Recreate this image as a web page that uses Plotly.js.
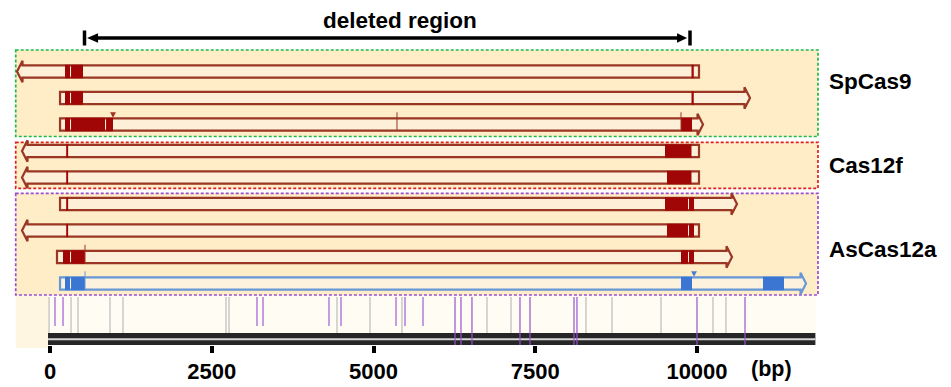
<!DOCTYPE html>
<html><head><meta charset="utf-8">
<script src="https://cdn.plot.ly/plotly-3.0.1.min.js"></script>
<style>html,body{margin:0;padding:0;background:#fff}</style>
</head><body><div id="chart" style="width:951px;height:387px"></div>
<script>
// ---------------- data (positions in bp) ----------------
const groupNames = ['SpCas9', 'Cas12f', 'AsCas12a'];
const readGroup  = [0, 0, 0, 1, 1, 2, 2, 2, 2];
const readStart  = [-510, 155, 155, -433, -433, 155, -433, 108, 155];
const readEnd    = [10031, 10819, 10093, 10031, 10031, 10618, 10031, 10541, 11685];
const readStrand = ['-', '+', '+', '-', '-', '+', '-', '+', '+'];
const readKind   = ['red', 'red', 'red', 'red', 'red', 'red', 'red', 'red', 'blue'];

const blockRead  = [0, 0, 0,   1, 1, 1,   2, 2, 2, 2,   3, 3,   4, 4,   5, 5, 5,   6, 6, 6,   7, 7, 7, 7,   8, 8, 8, 8];
const blockStart = [232, 325, 9915,  232, 325, 9915,  232, 325, 866, 9753,  250, 9505,  250, 9536,  250, 9505, 9876,  250, 9536, 9876,  201, 325, 9753, 9876,  232, 325, 9753, 11020];
const blockEnd   = [309, 510, 9950,  309, 510, 9950,  309, 850, 974, 9923,  280, 9915,  280, 9915,  280, 9861, 9954,  280, 9861, 9954,  309, 541, 9861, 9954,  309, 541, 9923, 11345];

const markRead = [2, 2, 7, 8];
const markPos  = [5363, 9753, 541, 541];
const cutRead  = [2, 8];
const cutPos   = [974, 9954];

const deletedStart = 533;
const deletedEnd   = 9892;
const deletedLabel = 'deleted region';
const deletedLabelPos = 5410;

const trackStart = -31;
const trackEnd   = 11830;
const greyPos        = [-15, 325, 433, 927, 1128, 2720, 2767, 4436, 4946, 5440, 6754, 7125, 8284, 8686, 9444, 10247, 10448];
const purpleShortPos = [77, 201, 3199, 3292, 4312, 4498, 5348, 5487, 5765];
const purpleLongPos  = [6260, 6352, 6522, 7264, 7419, 8099, 8145, 10000, 10742];

const tickVals = [0, 2500, 5000, 7500, 10000];
const tickText = ['0', '2500', '5000', '7500', '10000'];
const unitLabel = '(bp)';
const unitLabelPos = 11159;

// ---------------- layout helpers ----------------
const FONT = 'Arial, "Liberation Sans", sans-serif';
const rowY = i => 71.5 + 26.5 * i;   // vertical pixel centre of read row
const HALF = 6.2;                       // half body height (px)
const HEAD = 85;                        // arrowhead length (bp)
const FLARE = 4.5;                      // arrowhead flare (px)
const boxX0 = -530, boxX1 = 11870;
const groupBox = [
  {y0: 50, y1: 136.5, color: '#1FBA48'},
  {y0: 142.3, y1: 188.3, color: '#E02020'},
  {y0: 193.3, y1: 295, color: '#9A4ECF'}
];
const groupLabelY = [81.6, 165.6, 249];
const palette = {
  red:  {line: '#9A3624', fill: '#FDEFD8', block: '#A00606', cut: '#A3301E'},
  blue: {line: '#6797D6', fill: '#FDF2DD', block: '#3A76D2', cut: '#4A7FCB'}
};

const shapes = [];
// group boxes
groupBox.forEach(b => shapes.push({type: 'rect', xref: 'x', yref: 'y', x0: boxX0, x1: boxX1, y0: b.y0, y1: b.y1,
  fillcolor: '#FEEDC6', line: {color: b.color, width: 1.7, dash: '3px,2px'}, layer: 'below'}));
// bottom track background
shapes.push({type: 'rect', xref: 'x', yref: 'y', x0: boxX0, x1: trackStart, y0: 296, y1: 348, fillcolor: '#FFF6E2', line: {width: 0}, layer: 'below'});
shapes.push({type: 'rect', xref: 'x', yref: 'y', x0: trackStart, x1: trackEnd + 15, y0: 296, y1: 333, fillcolor: '#FFFCF3', line: {width: 0}, layer: 'below'});

// reads
for (let i = 0; i < readStart.length; i++) {
  const y = rowY(i), t = y - HALF, b = y + HALF, s = readStart[i], e = readEnd[i];
  const c = palette[readKind[i]];
  let p;
  if (readStrand[i] === '+') {
    p = `M${s},${t} L${e - HEAD},${t} L${e - HEAD},${t - FLARE} L${e},${y} L${e - HEAD},${b + FLARE} L${e - HEAD},${b} L${s},${b} Z`;
  } else {
    p = `M${e},${t} L${s + HEAD},${t} L${s + HEAD},${t - FLARE} L${s},${y} L${s + HEAD},${b + FLARE} L${s + HEAD},${b} L${e},${b} Z`;
  }
  shapes.push({type: 'path', xref: 'x', yref: 'y', path: p, fillcolor: c.fill, line: {color: c.line, width: 2.2}});
}
// blocks
for (let k = 0; k < blockRead.length; k++) {
  const i = blockRead[k], y = rowY(i), c = palette[readKind[i]];
  shapes.push({type: 'rect', xref: 'x', yref: 'y', x0: blockStart[k], x1: blockEnd[k], y0: y - HALF - 0.5, y1: y + HALF + 0.5,
    fillcolor: c.block, line: {width: 0}});
}
// marks
for (let k = 0; k < markRead.length; k++) {
  const i = markRead[k], y = rowY(i), c = palette[readKind[i]];
  shapes.push({type: 'line', xref: 'x', yref: 'y', x0: markPos[k], x1: markPos[k], y0: y - HALF - 6, y1: y + HALF,
    line: {color: c.line, width: 1}});
}
// cut triangles
for (let k = 0; k < cutRead.length; k++) {
  const i = cutRead[k], y = rowY(i), c = palette[readKind[i]], x = cutPos[k];
  shapes.push({type: 'path', xref: 'x', yref: 'y', path: `M${x - 45},${y - HALF - 6} L${x + 45},${y - HALF - 6} L${x},${y - HALF - 0.5} Z`,
    fillcolor: c.cut, line: {width: 0}});
}
// bottom track vertical lines
greyPos.forEach(x => shapes.push({type: 'line', xref: 'x', yref: 'y', x0: x, x1: x, y0: 297, y1: 333, line: {color: '#AFAFAF', width: 1}}));
// black bar
shapes.push({type: 'rect', xref: 'x', yref: 'y', x0: trackStart, x1: trackEnd, y0: 333, y1: 345, fillcolor: '#262626', line: {width: 0}});
shapes.push({type: 'rect', xref: 'x', yref: 'y', x0: trackStart, x1: trackEnd, y0: 338.3, y1: 340.2, fillcolor: '#D8D8D8', line: {width: 0}});
purpleShortPos.forEach(x => shapes.push({type: 'line', xref: 'x', yref: 'y', x0: x, x1: x, y0: 297, y1: 326, line: {color: '#A05CD6', width: 1.2}}));
purpleLongPos.forEach(x => shapes.push({type: 'line', xref: 'x', yref: 'y', x0: x, x1: x, y0: 297, y1: 345, line: {color: '#9A50D0', width: 1.2}}));

// deleted region arrow
const dy = 38;
shapes.push({type: 'line', xref: 'x', yref: 'y', x0: deletedStart + 120, x1: deletedEnd - 120, y0: dy, y1: dy, line: {color: '#000', width: 3.5}});
shapes.push({type: 'line', xref: 'x', yref: 'y', x0: deletedStart, x1: deletedStart, y0: dy - 7.5, y1: dy + 7.5, line: {color: '#000', width: 3.5}});
shapes.push({type: 'line', xref: 'x', yref: 'y', x0: deletedEnd, x1: deletedEnd, y0: dy - 7.5, y1: dy + 7.5, line: {color: '#000', width: 3.5}});
shapes.push({type: 'path', xref: 'x', yref: 'y', path: `M${deletedStart + 40},${dy} L${deletedStart + 210},${dy - 4.8} L${deletedStart + 210},${dy + 4.8} Z`, fillcolor: '#000', line: {width: 0}});
shapes.push({type: 'path', xref: 'x', yref: 'y', path: `M${deletedEnd - 45},${dy} L${deletedEnd - 200},${dy - 4.8} L${deletedEnd - 200},${dy + 4.8} Z`, fillcolor: '#000', line: {width: 0}});

const annotations = [
  {xref: 'x', yref: 'y', x: deletedLabelPos, y: 20.5, text: '<b>' + deletedLabel + '</b>', showarrow: false,
   font: {family: FONT, size: 22.5, color: '#000'}, xanchor: 'center', yanchor: 'middle'},
  {xref: 'x', yref: 'y', x: unitLabelPos, y: 369, text: '<b>' + unitLabel + '</b>', showarrow: false,
   font: {family: FONT, size: 21.5, color: '#000'}, xanchor: 'center', yanchor: 'middle'}
];
groupNames.forEach((g, k) => annotations.push({xref: 'x', yref: 'y', x: 12010, y: groupLabelY[k], text: '<b>' + g + '</b>',
  showarrow: false, font: {family: FONT, size: 22.5, color: '#000'}, xanchor: 'left', yanchor: 'middle'}));

const layout = {
  width: 951, height: 387,
  margin: {l: 0, r: 0, t: 0, b: 0},
  paper_bgcolor: '#fff', plot_bgcolor: 'rgba(0,0,0,0)',
  showlegend: false,
  xaxis: {range: [-773, 13926], anchor: 'free', position: 1 - 345 / 387, side: 'bottom',
    showgrid: false, zeroline: false, showline: false,
    ticks: 'outside', ticklen: 7, tickwidth: 4, tickcolor: '#000',
    tickvals: tickVals, ticktext: tickText.map(t => '<b>' + t + '</b>'),
    tickfont: {family: FONT, size: 22, color: '#000'}, fixedrange: true},
  yaxis: {range: [387, 0], visible: false, fixedrange: true},
  shapes: shapes,
  annotations: annotations
};

Plotly.newPlot('chart', [{x: [0], y: [0], mode: 'markers', marker: {opacity: 0}, hoverinfo: 'skip'}], layout,
  {staticPlot: true, displayModeBar: false});
</script>
</body></html>
